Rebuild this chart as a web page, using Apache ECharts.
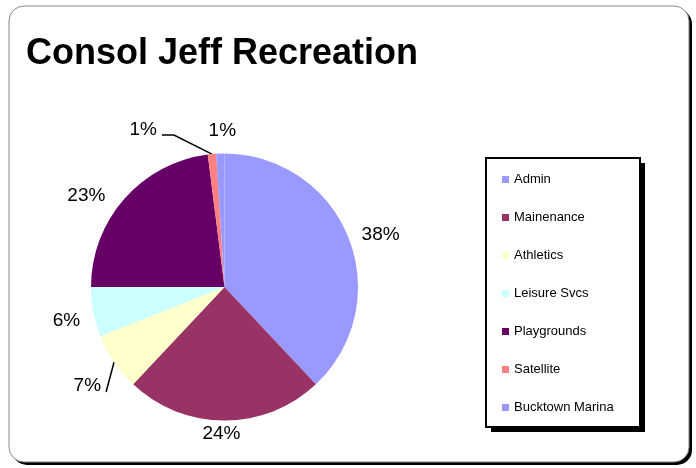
<!DOCTYPE html>
<html>
<head>
<meta charset="utf-8">
<script src="https://cdn.jsdelivr.net/npm/echarts@6/dist/echarts.min.js"></script>
<style>
  html, body { margin: 0; padding: 0; background: #fff; }
  #chart { width: 696px; height: 468px; }
</style>
</head>
<body>
<div id="chart"></div>
<script>
// Recreation budget split by program
const categories = ['Admin', 'Mainenance', 'Athletics', 'Leisure Svcs', 'Playgrounds', 'Satellite', 'Bucktown Marina'];
const shares = [38, 24, 7, 6, 23, 1, 1];
const colors = ['#9999FF', '#993366', '#FFFFCC', '#CCFFFF', '#660066', '#FF8080', '#9999FF'];

// pie geometry
const CX = 224.5, CY = 287, R = 133.5;
// where each percentage label sits, relative to the rim point at its slice's middle angle
const labelNudge = [[32, -3], [-3, 13], null, [-27, 9], [-38, -3], null, [2, -23]];
// slices whose label hangs off a leader line: knee offset from the rim point, then a horizontal tail
const leaders = {
  2: { knee: [-8, 30], tail: 0, lift: -6 },
  5: { knee: [-38, -19], tail: -12, lift: -5 }
};

const FONT = '"Liberation Sans", Arial, sans-serif';
const total = shares.reduce((a, b) => a + b, 0);

function placeLabel(p) {
  const i = p.dataIndex;
  let before = 0;
  for (let k = 0; k < i; k++) before += shares[k];
  const mid = -Math.PI / 2 + (before + shares[i] / 2) / total * Math.PI * 2;
  const ex = CX + R * Math.cos(mid), ey = CY + R * Math.sin(mid);
  const ld = leaders[i];
  if (ld) {
    const kx = ex + ld.knee[0], ky = ey + ld.knee[1];
    const tx = kx + ld.tail;
    return {
      x: tx - 5, y: ky + ld.lift, align: 'right', verticalAlign: 'middle',
      labelLinePoints: [[ex, ey], [kx, ky], [tx, ky]]
    };
  }
  const n = labelNudge[i];
  return { x: ex + n[0], y: ey + n[1], align: 'center', verticalAlign: 'middle' };
}

const chart = echarts.init(document.getElementById('chart'), null, { renderer: 'canvas' });

chart.setOption({
  animation: false,
  backgroundColor: '#fff',
  graphic: {
    elements: [
      // chart frame with its drop shadow
      { type: 'rect', z: -12, shape: { x: 12, y: 9, width: 680, height: 456, r: 15 },
        style: { fill: '#000' } },
      { type: 'rect', z: -11, shape: { x: 9, y: 6, width: 680, height: 456, r: 15 },
        style: { fill: '#fff', stroke: '#888', lineWidth: 1 } },
      // legend box with its drop shadow
      { type: 'rect', z: -6, shape: { x: 491, y: 163, width: 154, height: 269 },
        style: { fill: '#000' } },
      { type: 'rect', z: -5, shape: { x: 486, y: 158, width: 154, height: 269 },
        style: { fill: '#fff', stroke: '#000', lineWidth: 2 } }
    ]
  },
  title: {
    text: 'Consol Jeff Recreation',
    left: 26, top: 36, padding: 0,
    textStyle: { fontFamily: FONT, fontSize: 36, fontWeight: 'bold', color: '#000' }
  },
  legend: {
    orient: 'vertical',
    left: 502, top: 173, padding: 0,
    itemWidth: 7, itemHeight: 7, itemGap: 25,
    icon: 'rect',
    selectedMode: false,
    data: categories,
    textStyle: { fontFamily: FONT, fontSize: 13, color: '#000' }
  },
  series: [{
    type: 'pie',
    center: [CX, CY],
    radius: R,
    startAngle: 90,
    clockwise: true,
    avoidLabelOverlap: false,
    itemStyle: { borderWidth: 0 },
    label: {
      show: true, position: 'outside',
      formatter: '{c}%',
      fontFamily: FONT, fontSize: 19, color: '#000'
    },
    labelLine: { show: false, lineStyle: { color: '#000', width: 1.5 } },
    labelLayout: placeLabel,
    emphasis: { disabled: true },
    data: categories.map((name, i) => ({
      name,
      value: shares[i],
      itemStyle: { color: colors[i] },
      labelLine: { show: !!leaders[i] }
    }))
  }]
});
</script>
</body>
</html>
